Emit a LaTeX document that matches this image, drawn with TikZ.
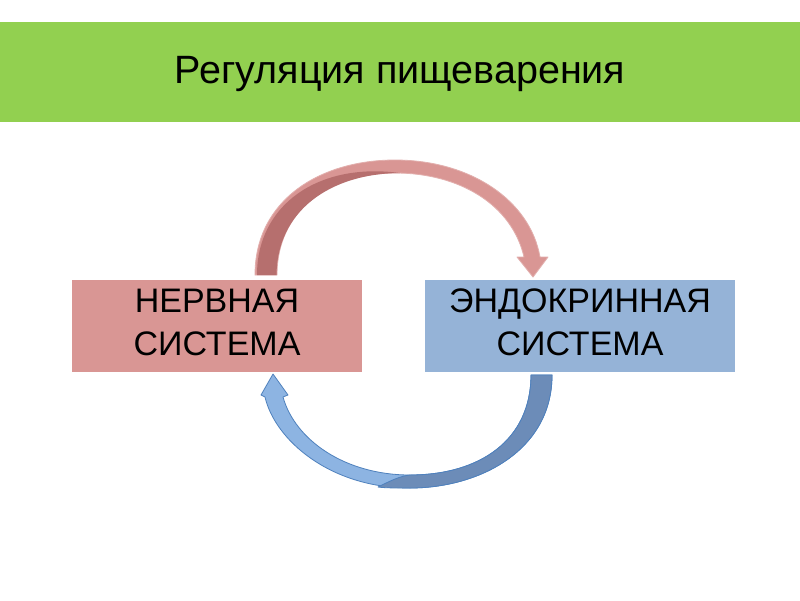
\documentclass[tikz,border=0pt]{standalone}
\usepackage{fontspec}
\setmainfont{Liberation Sans}
\definecolor{bandgreen}{RGB}{146,208,80}
\definecolor{pinkfill}{RGB}{217,150,148}
\definecolor{pinkdark}{RGB}{182,111,110}
\definecolor{pinkedge}{RGB}{226,175,173}
\definecolor{bluefill}{RGB}{149,179,215}
\definecolor{bluearrow}{RGB}{141,180,226}
\definecolor{bluedark}{RGB}{108,140,184}
\definecolor{blueedge}{RGB}{79,129,189}
\tikzset{
  boxnode/.style={draw=none, minimum height=92pt, inner sep=0pt},
  boxtext/.style={align=center, font=\fontsize{34}{43}\selectfont, inner sep=0pt},
  titletext/.style={font=\fontsize{39.5}{44}\selectfont, inner sep=0pt},
}
\begin{document}
\begin{tikzpicture}[x=1pt,y=-1pt]
\useasboundingbox (0,0) rectangle (800,600);
\fill[white] (0,0) rectangle (800,600);
% green band
\node[fill=bandgreen, minimum width=800pt, minimum height=100pt, inner sep=0pt, anchor=north west] (band) at (0,22) {};
\node[titletext] (title) at (400,74) {Регуляция пищеварения};
% boxes
\node[boxnode, fill=pinkfill, minimum width=290pt] (nerv) at (217,326) {};
\node[boxnode, fill=bluefill, minimum width=310pt] (endo) at (580,326) {};
\node[boxtext] (nervt) at (217,322) {НЕРВНАЯ\\СИСТЕМА};
\node[boxtext] (endot) at (580,322) {ЭНДОКРИННАЯ\\СИСТЕМА};
% top arrow (nervous -> endocrine)
\fill[pinkfill, draw=pinkedge, line width=0.8pt, line join=round]
  (255,275) .. controls (255,200) and (320,160) .. (395,160)
  .. controls (470,160) and (530,200) .. (540,257)
  -- (548,257) -- (533,277) -- (517,257) -- (524,257)
  .. controls (512,205) and (460,173) .. (395,173)
  .. controls (330,173) and (277,210) .. (277,275) -- cycle;
\fill[pinkdark]
  (257,275) .. controls (257,205) and (318,162) .. (400,173)
  .. controls (330,173.5) and (277,211) .. (276.5,275) -- cycle;
% bottom arrow (endocrine -> nervous)
\fill[bluearrow, draw=blueedge, line width=0.8pt, line join=round]
  (552,375) .. controls (552,450) and (480,488) .. (410,488)
  .. controls (330,488) and (275,440) .. (265,397)
  -- (261,395) -- (273,374) -- (288,395) -- (283,397)
  .. controls (295,440) and (345,475) .. (410,475)
  .. controls (480,475) and (531,440) .. (531,375) -- cycle;
\fill[bluedark, draw=blueedge, line width=0.8pt, line join=round]
  (552,375) .. controls (552,450) and (480,488) .. (410,488)
  .. controls (395,488) and (385,488) .. (378,487)
  .. controls (390,481) and (400,476) .. (410,475)
  .. controls (480,475) and (531,440) .. (531,375) -- cycle;
\end{tikzpicture}
\end{document}
